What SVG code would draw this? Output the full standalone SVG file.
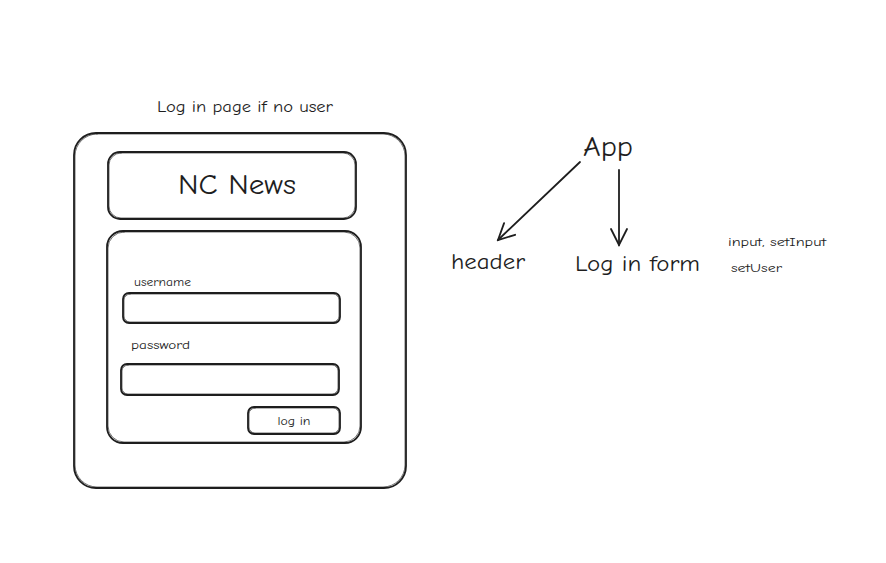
<svg xmlns="http://www.w3.org/2000/svg" width="886" height="563" viewBox="0 0 886 563">
<defs>
<style>
.s{fill:none;stroke:#1e1e1e;stroke-width:1.8;stroke-linecap:round;stroke-linejoin:round}
.s2{fill:none;stroke:#1e1e1e;stroke-width:0.9;stroke-linecap:round;opacity:0.7}
.t{font-family:"Comic Neue","Liberation Sans","DejaVu Sans",sans-serif;fill:#1e1e1e}
</style>
<marker id="ah" viewBox="0 0 20 20" refX="18" refY="10" markerWidth="20" markerHeight="20" markerUnits="userSpaceOnUse" orient="auto">
<path d="M2,2 L18,10 L2,18" fill="none" stroke="#1e1e1e" stroke-width="1.8" stroke-linecap="round"/>
</marker>
</defs>
<rect width="886" height="563" fill="#ffffff"/>
<g id="title"><text class="t" x="157" y="112" font-size="16" textLength="176" lengthAdjust="spacingAndGlyphs">Log in page if no user</text></g>
<g id="page">
<rect class="s" x="74" y="133" width="332" height="355" rx="22"/>
<rect class="s2" x="75" y="134" width="330" height="353" rx="22"/>
</g>
<g id="nc-news">
<rect class="s" x="108" y="152" width="248" height="67" rx="12"/>
<rect class="s2" x="109" y="153" width="246" height="65" rx="12"/>
<text class="t" x="237" y="194" font-size="28" text-anchor="middle" textLength="118" lengthAdjust="spacingAndGlyphs">NC News</text>
</g>
<g id="form">
<rect class="s" x="107" y="231" width="254" height="212" rx="16"/>
<rect class="s2" x="108" y="232" width="252" height="210" rx="16"/>
</g>
<g id="username">
<text class="t" x="134" y="286" font-size="12" textLength="57" lengthAdjust="spacingAndGlyphs">username</text>
<rect class="s" x="123" y="293" width="217" height="30" rx="6"/>
<rect class="s2" x="124" y="294" width="215" height="28" rx="6"/>
</g>
<g id="password">
<text class="t" x="131" y="349" font-size="12" textLength="59" lengthAdjust="spacingAndGlyphs">password</text>
<rect class="s" x="121" y="364" width="218" height="31" rx="6"/>
<rect class="s2" x="122" y="365" width="216" height="29" rx="6"/>
</g>
<g id="login-btn">
<rect class="s" x="248" y="407" width="92" height="27" rx="6"/>
<rect class="s2" x="249" y="408" width="90" height="25" rx="6"/>
<text class="t" x="294" y="425" font-size="12" text-anchor="middle" textLength="33" lengthAdjust="spacingAndGlyphs">log in</text>
</g>
<g id="app"><text class="t" x="583" y="156" font-size="28" textLength="50" lengthAdjust="spacingAndGlyphs">App</text></g>
<g id="header"><text class="t" x="451" y="269" font-size="22" textLength="74" lengthAdjust="spacingAndGlyphs">header</text></g>
<g id="login-form"><text class="t" x="575" y="271" font-size="22" textLength="125" lengthAdjust="spacingAndGlyphs">Log in form</text></g>
<g id="props">
<text class="t" x="728" y="246" font-size="12" textLength="98" lengthAdjust="spacingAndGlyphs">input, setInput</text>
<text class="t" x="731" y="272" font-size="12" textLength="51" lengthAdjust="spacingAndGlyphs">setUser</text>
</g>
<g id="connectors">
<path class="s" d="M580,162 L498,240" marker-end="url(#ah)"/>
<path class="s" d="M619,170 L619,245" marker-end="url(#ah)"/>
</g>
</svg>
